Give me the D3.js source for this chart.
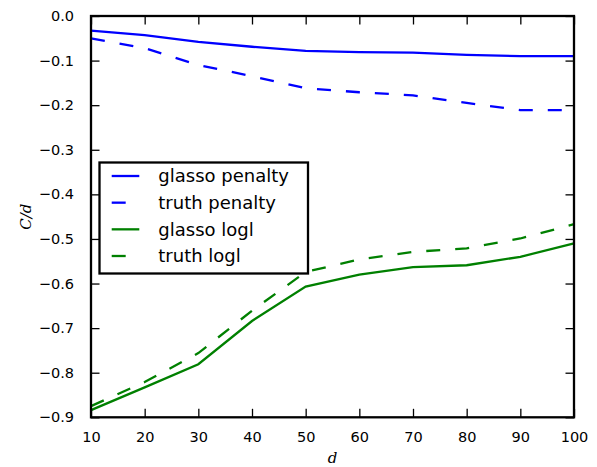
<!DOCTYPE html>
<html>
<head>
<meta charset="utf-8">
<script src="https://cdn.jsdelivr.net/npm/d3@7"></script>
<style>
  body { margin: 0; background: #fff; }
  svg { display: block; font-family: "DejaVu Sans", sans-serif; }
</style>
</head>
<body>
<svg id="chart" width="597" height="467"></svg>
<script>
// data
var dims = [10, 20, 30, 40, 50, 60, 70, 80, 90, 100]
var glassoPenalty = [-0.033, -0.043, -0.058, -0.069, -0.078, -0.081, -0.082, -0.087, -0.090, -0.090]
var truthPenalty = [-0.050, -0.072, -0.110, -0.135, -0.162, -0.171, -0.178, -0.195, -0.211, -0.211]
var glassoLogl = [-0.884, -0.833, -0.781, -0.684, -0.607, -0.580, -0.563, -0.559, -0.540, -0.510]
var truthLogl = [-0.875, -0.821, -0.756, -0.661, -0.574, -0.546, -0.529, -0.521, -0.499, -0.467]
var xTicks = [10, 20, 30, 40, 50, 60, 70, 80, 90, 100]
var yTicks = [0, -0.1, -0.2, -0.3, -0.4, -0.5, -0.6, -0.7, -0.8, -0.9]

var series = [
  { name: 'glasso penalty', values: glassoPenalty, color: '#0000ff', dash: null },
  { name: 'truth penalty', values: truthPenalty, color: '#0000ff', dash: '14,15' },
  { name: 'glasso logl', values: glassoLogl, color: '#008000', dash: null },
  { name: 'truth logl', values: truthLogl, color: '#008000', dash: '14,15' }
]

// plot box (note: "top" is taken by window.top, so prefixed names)
var plotL = 91, plotR = 574, plotT = 16, plotB = 417.3
var svg = d3.select('#chart')

var x = d3.scaleLinear().domain([10, 100]).range([plotL, plotR])
var y = d3.scaleLinear().domain([-0.9, 0]).range([plotB, plotT])

function fmt(v) {
  return d3.format('.1f')(v).replace('-', '\u2212')
}

// lines
var line = d3.line()
  .x(function (d, i) { return x(dims[i]) })
  .y(function (d) { return y(d) })

var lineGroup = svg.append('g')
series.forEach(function (s) {
  lineGroup.append('path')
    .datum(s.values)
    .attr('d', line)
    .attr('fill', 'none')
    .attr('stroke', s.color)
    .attr('stroke-width', 2.3)
    .attr('stroke-dasharray', s.dash)
})

// axes, ticks inside on all four sides
var tickLen = 8.5
var bottomAxis = d3.axisBottom(x).tickValues(xTicks).tickSizeInner(-tickLen).tickSizeOuter(0).tickPadding(14)
var topAxis = d3.axisTop(x).tickValues(xTicks).tickSizeInner(-tickLen).tickSizeOuter(0).tickFormat('')
var leftAxis = d3.axisLeft(y).tickValues(yTicks).tickSizeInner(-tickLen).tickSizeOuter(0).tickPadding(17).tickFormat(fmt)
var rightAxis = d3.axisRight(y).tickValues(yTicks).tickSizeInner(-tickLen).tickSizeOuter(0).tickFormat('')

function styleAxis(g) {
  g.attr('font-size', 14.5).attr('font-family', '"DejaVu Sans", sans-serif')
  g.select('.domain').remove()
  g.selectAll('.tick line').attr('stroke', '#000').attr('stroke-width', 1.3)
  g.selectAll('.tick text').attr('fill', '#000')
}

svg.append('g').attr('transform', 'translate(0,' + plotB + ')').call(bottomAxis).call(styleAxis)
svg.append('g').attr('transform', 'translate(0,' + plotT + ')').call(topAxis).call(styleAxis)
svg.append('g').attr('transform', 'translate(' + plotL + ',0)').call(leftAxis).call(styleAxis)
svg.append('g').attr('transform', 'translate(' + plotR + ',0)').call(rightAxis).call(styleAxis)

svg.append('rect')
  .attr('x', plotL).attr('y', plotT)
  .attr('width', plotR - plotL).attr('height', plotB - plotT)
  .attr('fill', 'none').attr('stroke', '#000').attr('stroke-width', 2.3)

// axis labels
svg.append('text')
  .attr('x', (plotL + plotR) / 2).attr('y', 463)
  .attr('text-anchor', 'middle')
  .style('font-family', '"DejaVu Serif", serif').style('font-style', 'italic').style('font-size', '15px')
  .text('d')

svg.append('text')
  .attr('transform', 'translate(31,' + ((plotT + plotB) / 2) + ') rotate(-90)')
  .attr('text-anchor', 'middle')
  .style('font-family', '"DejaVu Serif", serif').style('font-style', 'italic').style('font-size', '15px')
  .text('C/d')

// legend
var legend = svg.append('g')
legend.append('rect')
  .attr('x', 99.5).attr('y', 162.5).attr('width', 208.5).attr('height', 111)
  .attr('fill', '#fff').attr('stroke', '#000').attr('stroke-width', 2.3)

var rowY = d3.scaleLinear().domain([0, 3]).range([176, 256])
series.forEach(function (s, i) {
  var ry = rowY(i)
  legend.append('line')
    .attr('x1', 111.7).attr('x2', 139.3).attr('y1', ry).attr('y2', ry)
    .attr('stroke', s.color).attr('stroke-width', 2.3)
    .attr('stroke-dasharray', s.dash)
  legend.append('text')
    .attr('x', 158.3).attr('y', ry).attr('dy', '0.35em')
    .style('font-size', '18px')
    .text(s.name)
})
</script>
</body>
</html>
